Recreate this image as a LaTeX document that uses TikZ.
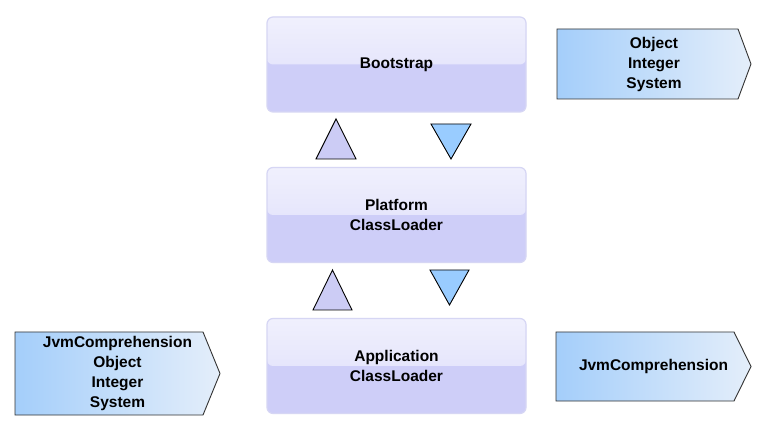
\documentclass[tikz,border=0pt]{standalone}
\usepackage{fontspec}
\setmainfont{Liberation Sans}
\usetikzlibrary{positioning}
\definecolor{lavtop}{RGB}{240,240,253}
\definecolor{lavmid}{RGB}{220,220,250}
\definecolor{lavlow}{RGB}{206,206,248}
\definecolor{lavline}{RGB}{214,214,244}
\definecolor{pkgleft}{RGB}{164,206,250}
\definecolor{pkgright}{RGB}{228,238,250}
\definecolor{uptri}{RGB}{204,204,245}
\definecolor{downtri}{RGB}{153,204,255}
\newcommand{\lbl}{\fontsize{15.5}{20}\selectfont\bfseries}
\tikzset{
  loader/.style={draw=lavline, line width=1.2pt, rounded corners=6pt, fill=lavlow,
    minimum width=259pt, minimum height=95pt, align=center, font=\lbl,
    path picture={\shade[top color=lavtop, bottom color=lavmid]
      (path picture bounding box.north west) rectangle (path picture bounding box.east);}},
  pkg/.style={draw=black!80, line width=0.9pt, left color=pkgleft, right color=pkgright},
  pkgtext/.style={align=center, font=\lbl},
  upper/.style={draw=black, line width=0.9pt, fill=uptri},
  downer/.style={draw=black, line width=0.9pt, fill=downtri}
}

\begin{document}
\begin{tikzpicture}[x=1pt,y=-1pt]
  \useasboundingbox[fill=white] (0,0) rectangle (766,430);
  % class loaders
  \node[loader] (boot) at (396.5, 64.5) {Bootstrap};
  \node[loader] (plat) at (396.5,215.0) {Platform\\ClassLoader};
  \node[loader] (appl) at (396.5,366.0) {Application\\ClassLoader};
  % delegation triangles
  \filldraw[upper]  (316,159) -- (356,159) -- (336,119) -- cycle;
  \filldraw[downer] (431,124) -- (471,124) -- (451,159) -- cycle;
  \filldraw[upper]  (313,310) -- (352,310) -- (332.5,270) -- cycle;
  \filldraw[downer] (430,270) -- (469,270) -- (449.5,305) -- cycle;
  % loaded classes
  \shadedraw[pkg] (557,29) -- (738,29) -- (751,64) -- (738,99) -- (557,99) -- cycle;
  \node[pkgtext] (bootcls) at (654,64) {Object\\Integer\\System};
  \shadedraw[pkg] (15,332) -- (203,332) -- (220,373.5) -- (203,415) -- (15,415) -- cycle;
  \node[pkgtext] (applall) at (117.5,373.5) {JvmComprehension\\Object\\Integer\\System};
  \shadedraw[pkg] (556,332) -- (734,332) -- (751,366.5) -- (734,401) -- (556,401) -- cycle;
  \node[pkgtext] (applcls) at (653.5,366.5) {JvmComprehension};
\end{tikzpicture}
\end{document}
